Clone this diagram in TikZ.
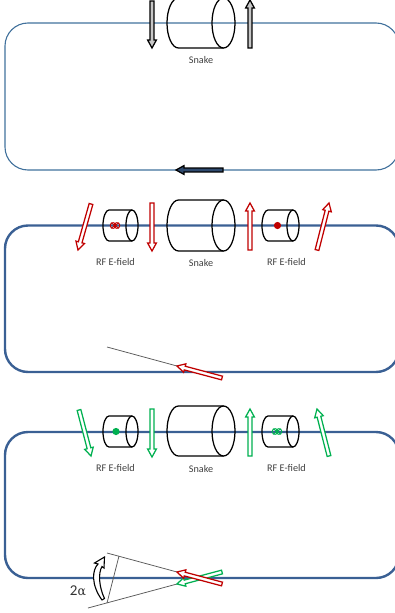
\documentclass[tikz,border=0pt]{standalone}
\usepackage{fontspec}
\setmainfont{Carlito}
\usetikzlibrary{calc}
\definecolor{ringthin}{HTML}{41719C}
\definecolor{ringthick}{HTML}{3A6094}
\definecolor{rfred}{HTML}{C00000}
\definecolor{rfgreen}{HTML}{00B050}
\definecolor{darkarrow}{HTML}{2F4A6E}
\tikzset{
  ringthinstyle/.style={draw=ringthin,line width=1.1pt,rounded corners=23pt},
  ringthickstyle/.style={draw=ringthick,line width=2.4pt,rounded corners=23pt},
  cylstyle/.style={draw=black,line width=1.25pt},
  lbl/.style={font=\fontsize{10.2}{12}\selectfont,text=black!75,inner sep=0pt},
  thinline/.style={draw=black!65,line width=0.75pt},
}
% tail x,y ; tip x,y ; colour ; fill
\newcommand{\blockarrow}[6]{%
  \begin{scope}
    \coordinate (T) at (#1,#2);
    \coordinate (H) at (#3,#4);
    \path let \p1=($(H)-(T)$), \n1={atan2(\y1,\x1)}, \n2={veclen(\x1,\y1)} in
      [draw=#5,fill=#6,line width=1.25pt,line join=miter,shift={(T)},rotate=\n1]
      (0pt,-1.9pt) -- (\n2-8pt,-1.9pt) -- (\n2-8pt,-4.4pt) -- (\n2,0pt) -- (\n2-8pt,4.4pt) -- (\n2-8pt,1.9pt) -- (0pt,1.9pt) -- cycle;
  \end{scope}}
% left x, right x, ellipse rx, centre y, half-height
\newcommand{\cyl}[5]{%
  \draw[cylstyle] (#2-#3,#4-#5) -- (#1+#3,#4-#5)
    .. controls (#1+#3*0.45,#4-#5) and (#1,#4-#5*0.55) .. (#1,#4)
    .. controls (#1,#4+#5*0.55) and (#1+#3*0.45,#4+#5) .. (#1+#3,#4+#5) -- (#2-#3,#4+#5);
  \draw[cylstyle] (#2-#3,#4) ellipse [x radius=#3,y radius=#5];
}
% double crossed circles
\newcommand{\crossmark}[3]{%
  \begin{scope}[shift={(#1,#2)},line width=0.9pt]
    \draw[#3] (-1.9,0) circle [radius=2.9];
    \draw[#3] (1.9,0) circle [radius=2.9];
    \draw[#3] (-4,-2.8) -- (4,2.8);
    \draw[#3] (-4,2.8) -- (4,-2.8);
  \end{scope}}
\begin{document}
\begin{tikzpicture}[x=1pt,y=-1pt]
\useasboundingbox (0,0) rectangle (395,613);
\begin{scope}
\clip (0,0) rectangle (395,613);
% Rings
\draw[ringthinstyle] (5,23) rectangle (399,170);
\draw[ringthickstyle] (5,225.5) rectangle (399,372);
\draw[ringthickstyle] (5,432) rectangle (399,578);
% Top panel
\cyl{167}{235}{11.5}{23}{25}
\blockarrow{152}{1}{152}{48}{black}{black!22}
\blockarrow{250}{48}{250}{0}{black}{black!22}
\blockarrow{223}{170}{176}{170}{black}{darkarrow}
\node[lbl] (snakeA) at (201,60) {Snake};
% Middle panel
\cyl{167}{235}{11.5}{225.5}{25.5}
\cyl{103}{138}{6}{225.5}{15.5}
\cyl{262}{299}{6}{225.5}{15.5}
\crossmark{115}{225.5}{rfred}
\fill[rfred] (277.5,225.5) circle [radius=3.6];
\blockarrow{91}{204}{78}{250}{rfred}{white}
\blockarrow{152}{203}{152}{251}{rfred}{white}
\blockarrow{250}{250}{250}{203}{rfred}{white}
\blockarrow{317}{250}{329}{203}{rfred}{white}
\node[lbl] (rfA) at (115.5,262) {RF E-field};
\node[lbl] (snakeB) at (201,263) {Snake};
\node[lbl] (rfB) at (286.5,262) {RF E-field};
\coordinate (tipA) at (177,366);
\coordinate (farA) at (107,347);
\draw[thinline] (farA) -- (tipA);
\blockarrow{222}{378}{177}{366}{rfred}{white}
% Bottom panel
\cyl{167}{235}{11.5}{431}{25}
\cyl{103}{138}{6}{431.5}{15.5}
\cyl{262}{299}{6}{431.5}{15.5}
\fill[rfgreen] (116,431.5) circle [radius=3.6];
\crossmark{277}{431.5}{rfgreen}
\blockarrow{79}{410}{91}{456}{rfgreen}{white}
\blockarrow{152}{409}{152}{457}{rfgreen}{white}
\blockarrow{250}{456}{250}{409}{rfgreen}{white}
\blockarrow{329}{456}{317}{409}{rfgreen}{white}
\node[lbl] (rfC) at (115.5,468) {RF E-field};
\node[lbl] (snakeC) at (201,468.5) {Snake};
\node[lbl] (rfD) at (286.5,468) {RF E-field};
\coordinate (tipB) at (177,572);
\coordinate (farB) at (107,553);
\coordinate (tipC) at (177,584);
\coordinate (farC) at (88,608);
\draw[thinline] (farB) -- (tipB);
\draw[thinline] (farC) -- (tipC);
\coordinate (chordA) at (119,556);
\coordinate (chordB) at (107,603);
\draw[thinline] (chordA) -- (chordB);
\blockarrow{222}{572}{177}{584}{rfgreen}{white}
\blockarrow{222}{584}{177}{572}{rfred}{white}
% Bend arrow
\draw[draw=black,fill=white,line width=1.1pt,line join=miter]
  (102,600) .. controls (91,585) and (92,570) .. (98,564)
  -- (94.5,563) -- (104.5,557) -- (104,568) -- (102,566.5)
  .. controls (98,573) and (99,587) .. (104.5,598.5) -- cycle;
\node[inner sep=0pt,font=\fontsize{15}{17}\selectfont,text=black!80] (alpha) at (78,591) {2\fontspec{DejaVu Serif}\fontsize{12.5}{14}\selectfont α};
\end{scope}
\end{tikzpicture}
\end{document}
